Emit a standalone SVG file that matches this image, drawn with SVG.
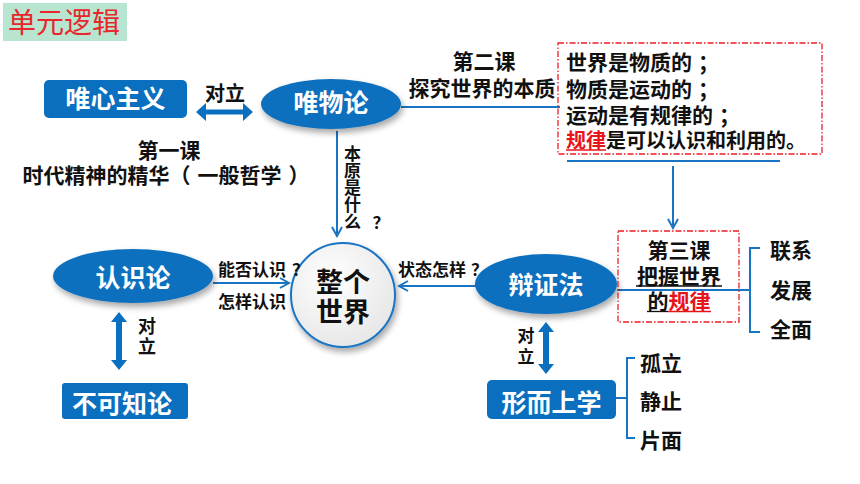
<svg xmlns="http://www.w3.org/2000/svg" width="860" height="484" viewBox="0 0 860 484">
<defs>
<style>
.t{font-family:"Noto Sans CJK SC","Noto Sans",sans-serif;font-weight:bold;fill:#111}
.w{font-family:"Noto Sans CJK SC","Noto Sans",sans-serif;font-weight:bold;fill:#fff}
.v{writing-mode:tb;text-orientation:upright}
.r{fill:#e8141b}
.blue{fill:#0a6fbe}
.ln{stroke:#1a74c4;stroke-width:2;fill:none}
.dash{fill:none;stroke:#ee1c25;stroke-width:1.3;stroke-dasharray:6 2 1.5 2}
</style>
<marker id="ah" markerWidth="12" markerHeight="12" refX="10" refY="6" orient="auto" markerUnits="userSpaceOnUse">
<path d="M1,1 L10,6 L1,11" fill="none" stroke="#1a74c4" stroke-width="2"/>
</marker>
<filter id="sh" x="-20%" y="-20%" width="150%" height="160%">
<feGaussianBlur in="SourceAlpha" stdDeviation="3"/>
<feOffset dx="2" dy="4"/>
<feComponentTransfer><feFuncA type="linear" slope="0.35"/></feComponentTransfer>
<feMerge><feMergeNode/><feMergeNode in="SourceGraphic"/></feMerge>
</filter>
<radialGradient id="cg" cx="0.4" cy="0.35" r="0.7">
<stop offset="0" stop-color="#ffffff"/>
<stop offset="1" stop-color="#e6e6e6"/>
</radialGradient>
</defs>
<rect width="860" height="484" fill="#fff"/>

<g id="title">
<rect x="3" y="3" width="124" height="38" fill="#b7e5cf"/>
<text x="64" y="33" text-anchor="middle" font-family="Noto Sans CJK SC, sans-serif" font-size="28" fill="#e8262b">单元逻辑</text>
</g>

<g id="connectors">
<path class="ln" d="M401,107 H560"/>
<path class="ln" d="M337,131 V236" marker-end="url(#ah)"/>
<path class="ln" d="M213,283 H289" marker-end="url(#ah)"/>
<path class="ln" d="M476,286 H399" marker-end="url(#ah)"/>
<path class="ln" d="M567,161 H780"/>
<path class="ln" d="M673,166 V228" marker-end="url(#ah)"/>
<path class="ln" d="M617,290 H750"/>
<path class="ln" d="M760,248 H750 V332 H760"/>
<path class="ln" d="M616,398 H627"/>
<path class="ln" d="M635,358 H627 V438 H635"/>
<polygon class="blue" points="196,112 206,103 206,109.5 243,109.5 243,103 253,112 243,121 243,114.5 206,114.5 206,121"/>
<polygon class="blue" points="119,312 127,322 122,322 122,360 127,360 119,370 111,360 116,360 116,322 111,322"/>
<polygon class="blue" points="546,322 554,332 549,332 549,364 554,364 546,374 538,364 543,364 543,332 538,332"/>
</g>

<g id="n-weixin">
<rect x="44" y="80" width="143" height="38" rx="5" class="blue"/>
<text x="115.5" y="108" text-anchor="middle" class="w" font-size="25">唯心主义</text>
</g>
<text x="225" y="101" text-anchor="middle" class="t" font-size="20">对立</text>

<g id="n-weiwu">
<ellipse cx="331" cy="104" rx="70" ry="25" class="blue" filter="url(#sh)"/>
<text x="331" y="112" text-anchor="middle" class="w" font-size="25">唯物论</text>
</g>

<g id="l-lesson1">
<text x="169" y="158" text-anchor="middle" class="t" font-size="21">第一课</text>
<text x="166" y="183" text-anchor="middle" class="t" font-size="21">时代精神的精华（<tspan dx="7">一般哲学</tspan><tspan dx="7">）</tspan></text>
</g>

<g id="l-lesson2">
<text x="484" y="69" text-anchor="middle" class="t" font-size="21">第二课</text>
<text x="482" y="96" text-anchor="middle" class="t" font-size="21">探究世界的本质</text>
</g>

<g id="l-benyuan">
<text x="352.5" y="145" class="t v" font-size="17">本原是什么</text>
<text x="381" y="229" text-anchor="middle" class="t" font-size="17">？</text>
</g>

<g id="n-box1">
<rect x="558" y="43" width="264" height="111" class="dash"/>
<text x="566" y="70" class="t" font-size="21">世界是物质的<tspan dx="6">；</tspan></text>
<text x="566" y="97" class="t" font-size="21">物质是运动的<tspan dx="6">；</tspan></text>
<text x="566" y="123" class="t" font-size="21">运动是有规律的<tspan dx="6">；</tspan></text>
<text x="566" y="148" class="t" font-size="20"><tspan class="r">规律</tspan>是可以认识和利用的。</text>
<path d="M566,150 H606" stroke="#e8141b" stroke-width="1.5"/>
</g>

<g id="n-world">
<circle cx="343" cy="295" r="52" fill="url(#cg)" stroke="#1a74c4" stroke-width="2" filter="url(#sh)"/>
<text x="343" y="292" text-anchor="middle" class="t" font-size="27">整个</text>
<text x="343" y="322" text-anchor="middle" class="t" font-size="27">世界</text>
</g>

<g id="l-left" class="t" font-size="17">
<text x="218" y="276">能否认识<tspan dx="6">？</tspan></text>
<text x="218" y="308">怎样认识</text>
</g>
<text x="398" y="276" class="t" font-size="17">状态怎样<tspan dx="5">？</tspan></text>

<g id="n-renshi">
<ellipse cx="133" cy="276" rx="80" ry="27" class="blue" filter="url(#sh)"/>
<text x="133" y="287" text-anchor="middle" class="w" font-size="25">认识论</text>
</g>
<text x="147" y="317" class="t v" font-size="18" letter-spacing="2">对立</text>
<g id="n-bukezhi">
<rect x="62" y="383" width="126" height="36" rx="3" class="blue"/>
<text x="122" y="413" text-anchor="middle" class="w" font-size="25">不可知论</text>
</g>

<g id="n-bianzheng">
<ellipse cx="546" cy="284" rx="71" ry="30" class="blue" filter="url(#sh)"/>
<text x="546" y="294" text-anchor="middle" class="w" font-size="25">辩证法</text>
</g>

<g id="n-lesson3">
<rect x="618" y="231" width="121" height="91" class="dash"/>
<text x="679" y="258" text-anchor="middle" class="t" font-size="21">第三课</text>
<text x="679" y="284" text-anchor="middle" class="t" font-size="21">把握世界</text>
<text x="679" y="309" text-anchor="middle" class="t" font-size="21">的<tspan class="r">规律</tspan></text>
<path d="M636,286 H722" stroke="#111" stroke-width="1.3"/>
<path d="M647,311.5 H668" stroke="#111" stroke-width="1.3"/>
<path d="M668,311.5 H711" stroke="#e8141b" stroke-width="1.3"/>
</g>

<g id="l-right" class="t" font-size="21">
<text x="770" y="258">联系</text>
<text x="770" y="298">发展</text>
<text x="770" y="337">全面</text>
</g>

<text x="526" y="327" class="t v" font-size="17" letter-spacing="4">对立</text>

<g id="n-xing">
<rect x="487" y="380" width="129" height="39" rx="5" class="blue"/>
<text x="551.5" y="412" text-anchor="middle" class="w" font-size="25">形而上学</text>
</g>

<g id="l-meta" class="t" font-size="21">
<text x="640" y="371">孤立</text>
<text x="640" y="409">静止</text>
<text x="640" y="448">片面</text>
</g>
</svg>
